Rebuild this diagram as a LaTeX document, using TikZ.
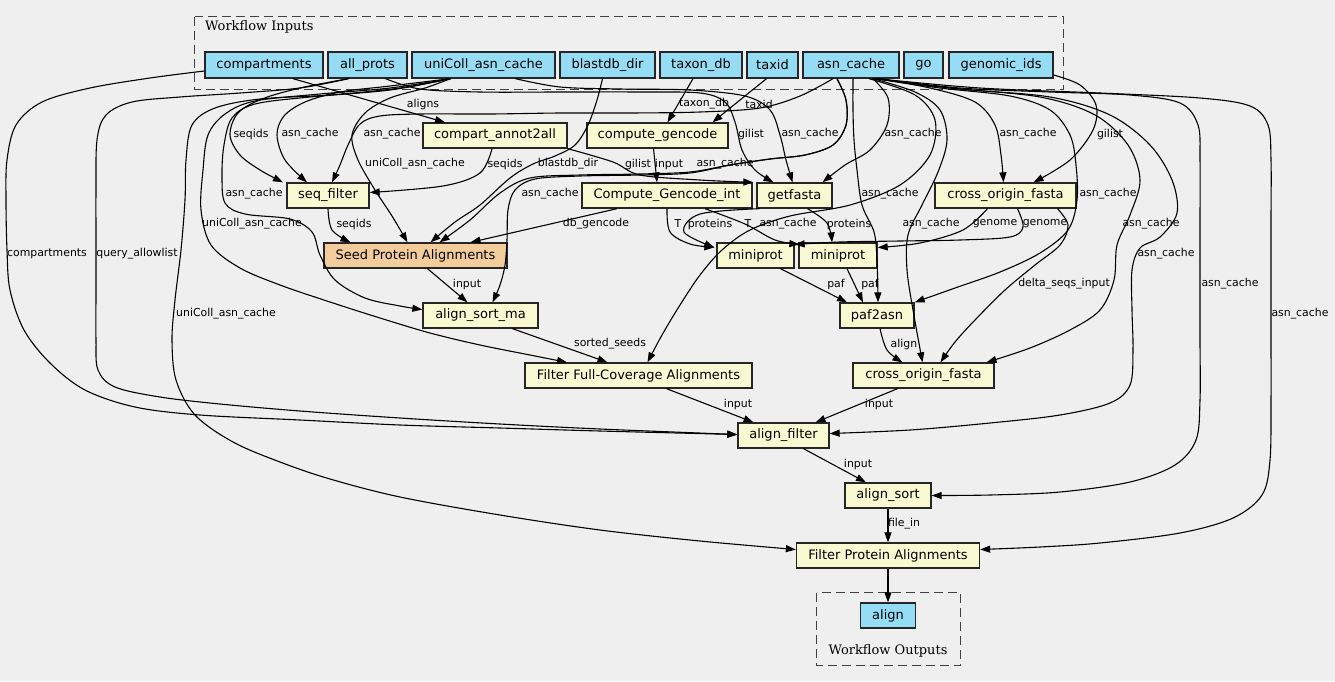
\documentclass[tikz,border=0pt]{standalone}
\usepackage{fontspec}
\setmainfont{DejaVu Sans}
\newfontfamily\seriffont{DejaVu Serif}
\usetikzlibrary{arrows.meta}
\definecolor{bgc}{RGB}{239,239,239}
\definecolor{inblue}{RGB}{148,221,244}
\definecolor{procc}{RGB}{250,250,210}
\definecolor{seedc}{RGB}{243,204,155}
\begin{document}
\begin{tikzpicture}[x=1pt,y=-1pt,
 box/.style={draw=black!85,line width=1.3pt,minimum height=25pt,inner sep=0pt,font=\fontsize{13}{15}\selectfont},
 inp/.style={box,fill=inblue,minimum height=26pt},
 prc/.style={box,fill=procc},
 conn/.style={line width=1.1pt,-{Triangle[length=10pt,width=7pt]}},
 sm/.style={smooth,tension=0.55},
 lab/.style={font=\fontsize{10.9}{12}\selectfont,inner sep=0pt},
 clus/.style={draw=black!75,line width=1.5pt,dash pattern=on 9pt off 5pt}
]
\fill[bgc] (0,0) rectangle (1335,681);
\useasboundingbox (0,0) rectangle (1335,681);
% clusters
\draw[clus] (194.5,16.5) rectangle (1063.5,89.5);
\node[anchor=west,inner sep=0pt,font=\seriffont\fontsize{13}{15}\selectfont] (cin) at (205,27) {Workflow Inputs};
\draw[clus] (816.5,592.5) rectangle (960.5,665.5);
\node[inner sep=0pt,font=\seriffont\fontsize{13}{15}\selectfont] (cout) at (888,651) {Workflow Outputs};
% inputs
\node[inp,minimum width=118pt] (cmp) at (264,65) {compartments};
\node[inp,minimum width=79pt] (apr) at (367.5,65) {all\_prots};
\node[inp,minimum width=143pt] (uni) at (483.5,65) {uniColl\_asn\_cache};
\node[inp,minimum width=95pt] (bdb) at (607.5,65) {blastdb\_dir};
\node[inp,minimum width=82pt] (txd) at (701,65) {taxon\_db};
\node[inp,minimum width=51pt] (tid) at (772.5,65) {taxid};
\node[inp,minimum width=96pt] (asn) at (851,65) {asn\_cache};
\node[inp,minimum width=39pt] (gon) at (923.5,65) {go};
\node[inp,minimum width=104pt] (gid) at (1001,65) {genomic\_ids};
% processes
\node[prc,minimum width=144pt] (c2a) at (495,135.5) {compart\_annot2all};
\node[prc,minimum width=141pt] (cg) at (657.5,135.5) {compute\_gencode};
\node[prc,minimum width=82pt] (sf) at (328,195.5) {seq\_filter};
\node[prc,minimum width=170pt] (cgi) at (667,195.5) {Compute\_Gencode\_int};
\node[prc,minimum width=75pt] (gf) at (794.5,195.5) {getfasta};
\node[prc,minimum width=141pt] (cof1) at (1005.5,195.5) {cross\_origin\_fasta};
\node[box,fill=seedc,minimum width=183pt] (seed) at (415.5,255.5) {Seed Protein Alignments};
\node[prc,minimum width=77pt] (mp1) at (755.5,255.5) {miniprot};
\node[prc,minimum width=78pt] (mp2) at (838,255.5) {miniprot};
\node[prc,minimum width=115pt] (asm) at (480.5,315.5) {align\_sort\_ma};
\node[prc,minimum width=74pt] (pa) at (877,315.5) {paf2asn};
\node[prc,minimum width=227pt] (ffc) at (638.5,375.5) {Filter Full-Coverage Alignments};
\node[prc,minimum width=141pt] (cof2) at (923.5,375.5) {cross\_origin\_fasta};
\node[prc,minimum width=91pt] (alf) at (783.5,435.5) {align\_filter};
\node[prc,minimum width=86pt] (als) at (888,495.5) {align\_sort};
\node[prc,minimum width=183pt] (fpa) at (888,555.5) {Filter Protein Alignments};
\node[box,fill=inblue,minimum width=55pt] (aln) at (888,615.5) {align};
% ---- edges: left side
\draw[conn] ([xshift=29pt]cmp.south) -- ([xshift=-50pt]c2a.north);
\draw[conn] plot[sm] coordinates {([yshift=-6pt]cmp.west) (150,78) (90,88) (42,102) (16,125) (7,160) (6,200) (7,250) (10,290) (24,330) (50,363) (85,390) (135,407) (200,415) (300,420) (400,425) (500,428) (600,431) ([yshift=1pt]alf.west)};
\draw[conn] plot[sm] coordinates {([xshift=-19pt]apr.south) (300,88) (240,93) (180,97) (132,102) (106,115) (97,140) (96,190) (96,240) (96,290) (96,340) (98,370) (115,387) (160,397) (220,404) (300,411) (400,418) (500,424) (600,429) ([yshift=1pt]alf.west)};
\draw[conn] plot[sm] coordinates {([xshift=-33pt]uni.south) (400,88) (330,95) (260,99) (215,108) (192,125) (186,160) (185,200) (181,250) (175,300) (172,340) (176,380) (195,415) (233,442) (280,462) (330,479) (400,497) (500,515) (600,530) (700,541) ([yshift=6pt]fpa.west)};
\draw[conn] plot[sm] coordinates {([xshift=-33pt]uni.south) (390,88) (320,94) (255,101) (225,114) (208,135) (203,170) (201,210) (211,245) (240,268) (280,285) (330,302) (380,318) (430,333) (480,345) (530,355) ([xshift=-71.5pt]ffc.north)};
\draw[conn] plot[sm] coordinates {([xshift=-33pt]uni.south) (390,90) (310,97) (255,104) (232,118) (224,145) (222,175) (225,203) (245,214) (290,219) (312,232) (320,255) (335,280) (365,298) (400,306) ([yshift=6pt]asm.west)};
\draw[conn] plot[sm] coordinates {([xshift=-19pt]apr.south) (300,88) (262,99) (238,113) (230,135) (240,155) (260,170) ([xshift=-45pt]sf.north)};
\draw[conn] plot[sm] coordinates {([xshift=-33pt]uni.south) (390,86) (340,92) (305,102) (284,116) (277,135) (285,160) ([xshift=-21pt]sf.north)};
\draw[conn] plot[sm] coordinates {([xshift=-18pt]asn.south) (800,96) (760,108) (700,112) (630,113) (560,113) (490,114) (420,114) (380,116) (360,124) (348,145) (340,165) ([xshift=4pt]sf.north)};
\draw[conn] plot[sm] coordinates {([xshift=-3pt]c2a.south) (480,173) (443,186) ([yshift=3pt]sf.east)};
\draw[conn] plot[sm] coordinates {([xshift=-33pt]uni.south) (425,88) (390,98) (365,113) (352,135) (358,160) (375,190) (392,216) ([xshift=-8pt]seed.north)};
\draw[conn] plot[sm] coordinates {(sf.south) (332,230) ([xshift=-65pt]seed.north)};
\draw[conn] plot[sm] coordinates {([xshift=-5pt]bdb.south) (597,100) (588,125) (575,145) (555,156) (533,164) (510,178) (480,205) (455,222) ([xshift=15pt]seed.north)};
\draw[conn] plot[sm] coordinates {([xshift=-14pt]asn.south) (846,100) (846,125) (833,145) (805,155) (770,159) (730,165) (690,172) (640,174) (580,175) (530,178) (500,193) (470,220) ([xshift=24pt]seed.north)};
\draw[conn] plot[sm] coordinates {([xshift=-14pt]asn.south) (846,100) (846,125) (833,145) (805,155) (770,159) (730,165) (690,173) (640,175) (580,176) (535,179) (515,190) (508,210) (507,240) (505,265) (500,285) ([xshift=12pt]asm.north)};
\draw[conn] ([xshift=-50pt]cgi.south) -- ([xshift=55pt]seed.north);
% ---- edges: centre
\draw[conn] ([xshift=-8pt]txd.south) -- ([xshift=10pt]cg.north);
\draw[conn] plot[sm] coordinates {([xshift=-6pt]tid.south) (740,100) ([xshift=55pt]cg.north)};
\draw[conn] ([xshift=-4pt]cg.south) -- ([xshift=-10pt]cgi.north);
\draw[conn] plot[sm] coordinates {(c2a.south east) (613,162) (640,175) (700,180) ([xshift=-3pt]gf.north west)};
\draw[conn] plot[sm] coordinates {([xshift=18pt]apr.south) (420,89) (480,92) (560,92) (640,92) (700,93) (725,102) (735,122) (742,150) (755,170) ([xshift=-21pt]gf.north)};
\draw[conn] plot[sm] coordinates {([xshift=32pt]uni.south) (560,87) (620,89) (690,90) (745,96) (770,110) (780,135) (786,160) ([xshift=-2pt]gf.north)};
\draw[conn] plot[sm] coordinates {([xshift=22pt]asn.south) (888,98) (887,125) (870,150) (845,165) ([xshift=28pt]gf.north)};
\draw[conn] plot[sm] coordinates {([xshift=2pt]asn.south) (853,110) (854,140) (857,170) (862,205) (874,232) (877,260) ([xshift=1pt]pa.north)};
\draw[conn] plot[sm] coordinates {([xshift=22pt]asn.south) (915,92) (940,110) (947,140) (938,172) (922,205) (908,235) (907,270) (913,310) ([xshift=-1pt]cof2.north)};
\draw[conn] plot[sm] coordinates {([xshift=18pt]asn.south) (915,95) (935,120) (930,155) (900,185) (850,205) (790,216) (750,230) (722,250) (700,275) (680,305) (662,335) ([xshift=9pt]ffc.north)};
% ---- edges: right side
\draw[conn] plot[sm] coordinates {([xshift=25pt]asn.south) (930,88) (975,102) (995,125) (1001,155) ([xshift=-2pt]cof1.north)};
\draw[conn] plot[sm] coordinates {([yshift=-10pt]gid.east) (1080,85) (1096,105) (1093,130) (1070,160) ([xshift=28pt]cof1.north)};
\draw[conn] plot[sm] coordinates {([xshift=25pt]asn.south) (940,88) (1010,96) (1050,110) (1070,135) (1076,165) (1077,200) (1068,230) (1040,253) (1000,272) (955,288) (pa.north east)};
\draw[conn] plot[sm] coordinates {([xshift=52pt]cof1.south) (1068,225) (1060,245) (1035,265) (1005,290) (975,320) (955,342) ([xshift=17pt]cof2.north)};
\draw[conn] plot[sm] coordinates {([xshift=25pt]asn.south) (950,88) (1040,97) (1095,115) (1128,145) (1140,180) (1130,215) (1117,245) (1114,280) (1100,310) (1070,330) (1030,348) ([xshift=63pt]cof2.north)};
\draw[conn] plot[sm] coordinates {([xshift=25pt]asn.south) (960,89) (1050,97) (1110,115) (1150,145) (1172,180) (1177,213) (1160,237) (1140,248) (1132,270) (1132,310) (1133,350) (1130,385) (1110,403) (1060,415) (990,423) (910,430) ([yshift=2pt]alf.east)};
\draw[conn] plot[sm] coordinates {([xshift=25pt]asn.south) (960,88) (1050,92) (1130,95) (1180,103) (1198,125) (1200,160) (1200,220) (1200,280) (1200,340) (1200,400) (1196,440) (1175,465) (1130,482) (1060,492) (990,495) (als.east)};
\draw[conn] plot[sm] coordinates {([xshift=25pt]asn.south) (980,88) (1100,93) (1200,98) (1250,106) (1268,125) (1271,160) (1271,220) (1271,280) (1271,340) (1271,400) (1270,460) (1262,495) (1233,518) (1180,533) (1100,543) (1040,547) ([yshift=6pt]fpa.east)};
% ---- edges: miniprot area
\draw[conn] plot[sm] coordinates {(cgi.south) (670,232) (690,244) ([xshift=-2pt,yshift=-5pt]mp1.north west)};
\draw[conn] plot[sm] coordinates {([xshift=-35pt]gf.south) (700,214) (684,232) ([xshift=-2pt,yshift=-5pt]mp1.north west)};
\draw[conn] plot[sm] coordinates {([xshift=38pt]cgi.south) (745,224) (775,240) ([xshift=1pt,yshift=-2pt]mp2.north west)};
\draw[conn] plot[sm] coordinates {([xshift=13pt]gf.south) (827,223) ([xshift=-6pt]mp2.north)};
\draw[conn] plot[sm] coordinates {([xshift=-18pt]cof1.south) (963,230) (920,243) ([yshift=8pt]mp2.east)};
\draw[conn] plot[sm] coordinates {([xshift=12pt]cof1.south) (1023,227) (1010,237) (960,240) (900,241) (840,242) ([yshift=11pt]mp1.east)};
\draw[conn] ([xshift=25pt]mp1.south) -- ([xshift=-30pt]pa.north);
\draw[conn] ([xshift=9pt]mp2.south) -- ([xshift=-14pt]pa.north);
\draw[conn] plot[sm] coordinates {([xshift=3pt]pa.south) (887,350) ([xshift=-21pt]cof2.north)};
% ---- edges: bottom
\draw[conn] ([xshift=28pt]ffc.south) -- ([xshift=-30pt]alf.north);
\draw[conn] ([xshift=-26pt]cof2.south) -- ([xshift=32pt]alf.north);
\draw[conn] ([xshift=20pt]alf.south) -- ([xshift=-22pt]als.north);
\draw[conn] (als.south) -- (fpa.north);
\draw[conn] (fpa.south) -- (aln.north);
\draw[conn] ([xshift=12pt]seed.south) -- ([xshift=-13pt]asm.north);
\draw[conn] ([xshift=32pt]asm.south) -- ([xshift=-31pt]ffc.north);
% ---- labels
\node[lab] (l1) at (423,104) {aligns};
\node[lab] (l2) at (704,104) {taxon\_db};
\node[lab] (l3) at (759,104) {taxid};
\node[lab] (l4) at (251,134) {seqids};
\node[lab] (l5) at (310,134) {asn\_cache};
\node[lab] (l6) at (392,134) {asn\_cache};
\node[lab] (l7) at (751,134) {gilist};
\node[lab] (l8) at (810,134) {asn\_cache};
\node[lab] (l9) at (913,134) {asn\_cache};
\node[lab] (l10) at (1028,134) {asn\_cache};
\node[lab] (l11) at (1110,134) {gilist};
\node[lab] (l12) at (415,164) {uniColl\_asn\_cache};
\node[lab] (l13) at (505,164) {seqids};
\node[lab] (l14) at (568,164) {blastdb\_dir};
\node[lab] (l15) at (638,164) {gilist};
\node[lab] (l16) at (669,164) {input};
\node[lab] (l17) at (725,164) {asn\_cache};
\node[lab] (l18) at (254,194) {asn\_cache};
\node[lab] (l19) at (550,194) {asn\_cache};
\node[lab] (l20) at (890,194) {asn\_cache};
\node[lab] (l21) at (1108,194) {asn\_cache};
\node[lab] (l22) at (252,224) {uniColl\_asn\_cache};
\node[lab] (l23) at (354,224) {seqids};
\node[lab] (l24) at (596,224) {db\_gencode};
\node[lab] (l25) at (678,224) {T};
\node[lab] (l26) at (710,224) {proteins};
\node[lab] (l27) at (748,224) {T};
\node[lab] (l28) at (788,224) {asn\_cache};
\node[lab] (l29) at (849,224) {proteins};
\node[lab] (l30) at (931,224) {asn\_cache};
\node[lab] (l31) at (995,224) {genome};
\node[lab] (l32) at (1045,224) {genome};
\node[lab] (l33) at (1151,224) {asn\_cache};
\node[lab] (l34) at (47,254) {compartments};
\node[lab] (l35) at (137,254) {query\_allowlist};
\node[lab] (l36) at (1166,254) {asn\_cache};
\node[lab] (l37) at (467,284) {input};
\node[lab] (l38) at (836,284) {paf};
\node[lab] (l39) at (870,284) {paf};
\node[lab] (l40) at (1064,284) {delta\_seqs\_input};
\node[lab] (l41) at (1230,284) {asn\_cache};
\node[lab] (l42) at (226,314) {uniColl\_asn\_cache};
\node[lab] (l43) at (1300,314) {asn\_cache};
\node[lab] (l44) at (610,344) {sorted\_seeds};
\node[lab] (l45) at (904,344) {align};
\node[lab] (l46) at (738,404) {input};
\node[lab] (l47) at (879,404) {input};
\node[lab] (l48) at (858,464) {input};
\node[lab] (l49) at (904,524) {file\_in};
\end{tikzpicture}
\end{document}
